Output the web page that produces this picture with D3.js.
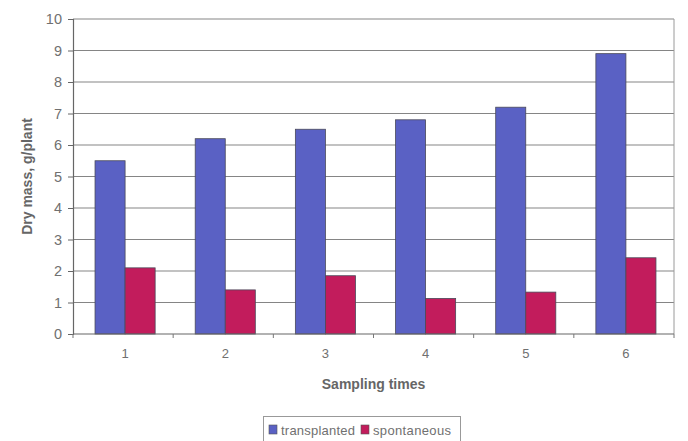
<!DOCTYPE html>
<html>
<head>
<meta charset="utf-8">
<script src="https://cdn.jsdelivr.net/npm/d3@7"></script>
<style>
  html, body { margin: 0; padding: 0; background: #fff; }
  svg { display: block; font-family: Arial, "Liberation Sans", sans-serif; }
</style>
</head>
<body>
<svg id="chart" width="688" height="441"></svg>
<script>
// Dry mass per plant at each sampling time
const samplingTimes = ["1", "2", "3", "4", "5", "6"];
const seriesNames = ["transplanted", "spontaneous"];
const transplanted = [5.5, 6.2, 6.5, 6.8, 7.2, 8.9];
const spontaneous = [2.1, 1.4, 1.85, 1.13, 1.33, 2.42];
const yTicks = [0, 1, 2, 3, 4, 5, 6, 7, 8, 9, 10];
const seriesColors = ["#5a61c4", "#c21c5c"];

const svg = d3.select("#chart");
const margin = { left: 73, right: 14, top: 19, bottom: 107 };
const width = 688, height = 441;
const plotW = width - margin.left - margin.right;
const plotH = height - margin.top - margin.bottom;

const g = svg.append("g").attr("transform", `translate(${margin.left},${margin.top})`);

const x0 = d3.scaleBand().domain(samplingTimes).range([0, plotW]).paddingInner(0.4).paddingOuter(0.2).align(0.55);
const x1 = d3.scaleBand().domain(seriesNames).range([0, x0.bandwidth()]);
const y = d3.scaleLinear().domain([0, 10]).range([plotH, 0]);

// horizontal gridlines
g.append("g").selectAll("line").data(yTicks.filter(d => d > 0)).join("line")
  .attr("x1", 0).attr("x2", plotW)
  .attr("y1", d => y(d)).attr("y2", d => y(d))
  .attr("stroke", "#858585").attr("stroke-width", 1.2);

// right border of plot area
g.append("line").attr("x1", plotW).attr("x2", plotW).attr("y1", 0).attr("y2", plotH)
  .attr("stroke", "#9a9a9a").attr("stroke-width", 1);

// bars
const rows = samplingTimes.map((t, i) => ({ t, vals: [transplanted[i], spontaneous[i]] }));
const groups = g.append("g").selectAll("g").data(rows).join("g")
  .attr("transform", d => `translate(${x0(d.t)},0)`);
groups.selectAll("rect").data(d => d.vals.map((v, k) => ({ key: seriesNames[k], v, k })))
  .join("rect")
  .attr("x", d => x1(d.key))
  .attr("y", d => y(d.v))
  .attr("width", x1.bandwidth())
  .attr("height", d => y(0) - y(d.v))
  .attr("fill", d => seriesColors[d.k])
  .attr("stroke", "#4a4a5a").attr("stroke-width", 0.8);

// y axis
const yAxis = g.append("g").call(d3.axisLeft(y).tickValues(yTicks).tickSize(5).tickPadding(6).tickFormat(d3.format("d")));
yAxis.select(".domain").attr("stroke", "#666").attr("stroke-width", 1.2);
yAxis.selectAll(".tick line").attr("stroke", "#666");
yAxis.selectAll("text").attr("fill", "#707070").attr("font-size", 14.5);

// x axis: ticks sit between categories
const xAxisG = g.append("g").attr("transform", `translate(0,${plotH})`);
xAxisG.append("line").attr("x1", 0).attr("x2", plotW).attr("stroke", "#666").attr("stroke-width", 1.2);
xAxisG.selectAll(".sep").data(d3.range(samplingTimes.length + 1)).join("line")
  .attr("class", "sep")
  .attr("x1", i => i * plotW / samplingTimes.length).attr("x2", i => i * plotW / samplingTimes.length)
  .attr("y1", 0).attr("y2", 4).attr("stroke", "#777");
xAxisG.selectAll("text").data(samplingTimes).join("text")
  .attr("x", d => x0(d) + x0.bandwidth() / 2)
  .attr("y", 24)
  .attr("text-anchor", "middle")
  .attr("fill", "#707070").attr("font-size", 13)
  .text(d => d);

// axis titles
svg.append("text")
  .attr("transform", `translate(32,${margin.top + plotH / 2}) rotate(-90)`)
  .attr("text-anchor", "middle")
  .attr("fill", "#666").attr("font-size", 14).attr("font-weight", "bold")
  .text("Dry mass, g/plant");
svg.append("text")
  .attr("x", margin.left + plotW / 2).attr("y", 389)
  .attr("text-anchor", "middle")
  .attr("fill", "#666").attr("font-size", 14).attr("font-weight", "bold")
  .text("Sampling times");

// legend
const leg = svg.append("g");
leg.append("rect").attr("x", 263.5).attr("y", 416.5).attr("width", 197).attr("height", 30)
  .attr("fill", "#fff").attr("stroke", "#999");
const items = [{ name: seriesNames[0], x: 269 }, { name: seriesNames[1], x: 361 }];
items.forEach((it, k) => {
  leg.append("rect").attr("x", it.x).attr("y", 425).attr("width", 8).attr("height", 9)
    .attr("fill", seriesColors[k]).attr("stroke", "#555").attr("stroke-width", 0.6);
  leg.append("text").attr("x", it.x + 12).attr("y", 434.5)
    .attr("fill", "#707070").attr("font-size", 13).attr("textLength", k === 0 ? 74 : 78)
    .text(it.name);
});
</script>
</body>
</html>
